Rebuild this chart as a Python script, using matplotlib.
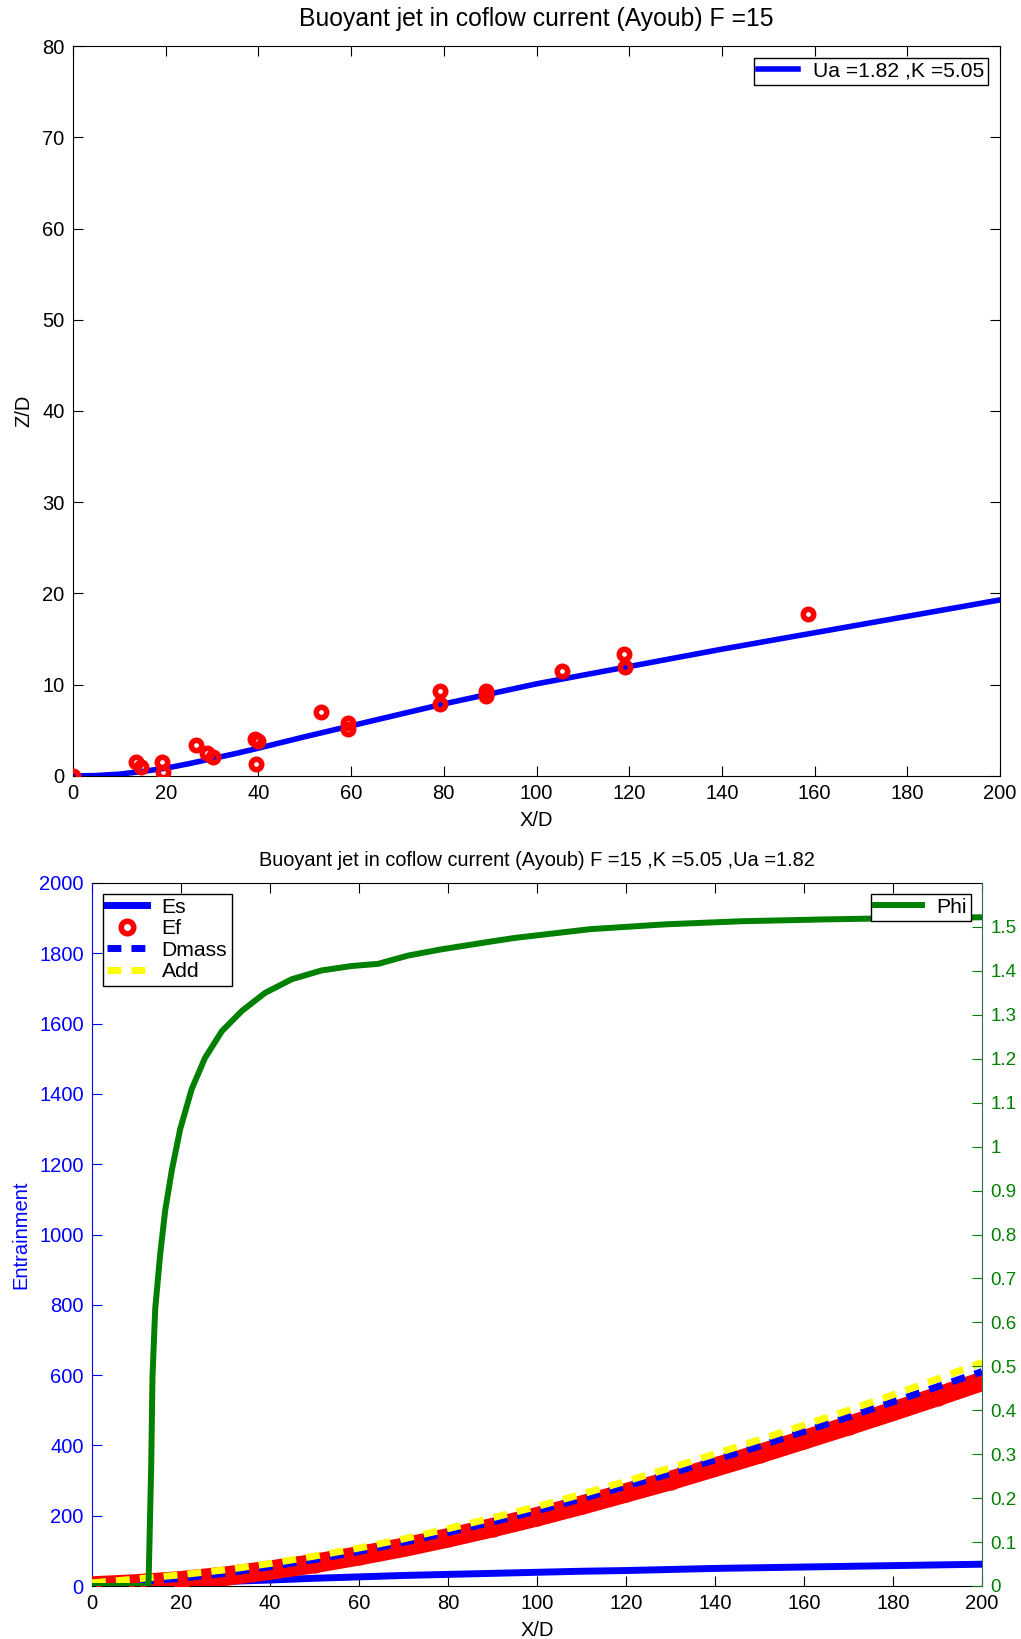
import numpy as np
import matplotlib
matplotlib.use("Agg")
import matplotlib.pyplot as plt

plt.rcParams['font.family'] = ['Liberation Sans', 'DejaVu Sans']

# ===== TRAJECTORY DATA (top) =====
x_exp = [0, 13.5, 14.6, 19.3, 19.4, 26.6, 29.0, 30.1, 39.2, 39.9, 39.5, 53.4,
         59.3, 59.3, 79.1, 79.1, 89.1, 89.1, 105.6, 118.9, 119.1, 158.5]
z_exp = [0, 1.58, 0.95, 1.58, 0.48, 3.4, 2.5, 2.1, 4.07, 3.85, 1.28, 7.0,
         5.79, 5.16, 9.34, 7.9, 9.27, 8.8, 11.54, 13.37, 11.95, 17.75]
x_mod = [0, 5, 10, 15, 20, 25, 30, 35, 40, 50, 60, 70, 80, 90, 100, 120,
         140, 160, 180, 200]
z_mod = [0, 0.05, 0.2, 0.5, 0.85, 1.35, 1.9, 2.45, 3.05, 4.3, 5.5, 6.7, 7.9,
         9.0, 10.1, 12.0, 13.9, 15.7, 17.5, 19.3]

# ===== ENTRAINMENT DATA (bottom) =====
x_ent = [0, 10, 20, 30, 40, 50, 60, 70, 80, 90, 100, 110, 120, 130, 140,
         150, 160, 170, 180, 190, 200]
es = [0, 3, 8, 13, 17, 22, 26, 30, 33, 36, 39, 42, 44, 47, 50, 52, 54, 56,
      58, 60, 62]
ef = [0, 6, 15, 28, 45, 64, 86, 110, 137, 166, 197, 230, 265, 300, 338, 376,
      416, 456, 497, 539, 582]
dmass = [5, 12, 22, 36, 55, 75, 98, 124, 152, 182, 214, 248, 284, 320, 359,
         398, 440, 481, 524, 567, 610]
add = [9, 20, 32, 46, 64, 85, 108, 134, 163, 194, 226, 261, 298, 336, 376,
       416, 458, 500, 544, 589, 636]

x_phi = [0, 12.7, 13.3, 13.6, 14.2, 15.3, 16.45, 17.95, 19.8, 22.4, 25.4,
         29.2, 33.7, 38.9, 44.9, 51.6, 58.3, 64.3, 71.1, 78.5, 89.8, 95,
         112, 129, 146, 164, 181, 200]
phi = [0, 0, 0.273, 0.478, 0.63, 0.753, 0.855, 0.947, 1.039, 1.131, 1.202,
       1.263, 1.309, 1.35, 1.381, 1.401, 1.411, 1.416, 1.435, 1.449, 1.467,
       1.475, 1.495, 1.506, 1.513, 1.517, 1.520, 1.522]

FS = 14.5
W, H = 1021, 1639

fig = plt.figure(figsize=(W / 100, H / 100), dpi=100)

# ===== TOP PLOT =====
ax = fig.add_axes([73 / W, 1 - 776 / H, 927 / W, 730 / H])
ax.plot(x_mod, z_mod, color='#0000FF', lw=4, label='Ua =1.82 ,K =5.05', zorder=2)
ax.plot(x_exp, z_exp, 'o', color='#FF0000', mfc='none', mec='#FF0000',
        ms=7.5, mew=4, zorder=3)
ax.set_xlim(0, 200)
ax.set_ylim(0, 80)
ax.set_xticks(np.arange(0, 201, 20))
ax.set_yticks(np.arange(0, 81, 10))
ax.tick_params(direction='in', length=7, top=True, right=True,
               labelsize=FS, pad=6)
ax.set_xlabel('X/D', fontsize=FS)
ax.set_ylabel('Z/D', fontsize=FS)
ax.xaxis.set_label_coords(0.5, -0.048)
ax.yaxis.set_label_coords(-0.043, 0.5)
ax.text(0.5, 1 + 27 / 730, 'Buoyant jet in coflow current (Ayoub) F =15',
        transform=ax.transAxes, ha='center', va='center', fontsize=17.8)
leg = ax.legend(loc='upper right', fontsize=15.2, fancybox=False,
                edgecolor='black', framealpha=1, handlelength=1.9,
                handletextpad=0.7, borderaxespad=0.55, borderpad=0.2)
leg.get_frame().set_linewidth(1.0)

# ===== BOTTOM PLOT =====
ax1 = fig.add_axes([92 / W, 1 - 1586 / H, 890 / W, 703 / H])
ax1.plot(x_ent, es, color='#0000FF', lw=5, label='Es', zorder=2)
ax1.plot(x_ent, ef, color='#FF0000', lw=14, solid_capstyle='round', zorder=3)
ax1.plot(x_ent, ef, 'o', color='#FF0000', mfc='none', mec='#FF0000', ms=9,
         mew=4, label='Ef', zorder=3)
ax1.plot(x_ent, dmass, color='#0000FF', lw=5, dashes=(2, 1.45),
         label='Dmass', zorder=4)
ax1.plot(x_ent, add, color='#FFFF00', lw=5, dashes=(2, 1.45),
         label='Add', zorder=5)
ax1.set_xlim(0, 200)
ax1.set_ylim(0, 2000)
ax1.set_xticks(np.arange(0, 201, 20))
ax1.set_yticks(np.arange(0, 2001, 200))
ax1.tick_params(axis='x', direction='in', length=7, top=True,
                labelsize=FS, pad=6)
ax1.tick_params(axis='y', direction='in', length=7, right=True,
                labelsize=FS, colors='#0000FF', pad=6)
ax1.spines['left'].set_color('#0000FF')
ax1.spines['right'].set_visible(False)
ax1.set_xlabel('X/D', fontsize=FS)
ax1.set_ylabel('Entrainment', fontsize=FS, color='#0000FF')
ax1.xaxis.set_label_coords(0.5, -0.05)
ax1.yaxis.set_label_coords(-0.069, 0.5)
ax1.text(0.5, 1 + 22 / 703,
         'Buoyant jet in coflow current (Ayoub) F =15 ,K =5.05 ,Ua =1.82',
         transform=ax1.transAxes, ha='center', va='center', fontsize=14.4)
leg1 = ax1.legend(loc='upper left', fontsize=15.2, fancybox=False,
                  edgecolor='black', framealpha=1, handlelength=1.9,
                  handletextpad=0.7, borderaxespad=0.5, borderpad=0.2,
                  labelspacing=0.12)
leg1.get_frame().set_linewidth(1.0)

ax2 = ax1.twinx()
ax2.plot(x_phi, phi, color='#008000', lw=4.3, label='Phi')
ax2.set_ylim(0, 1.6)
ax2.set_yticks(np.arange(0, 1.51, 0.1))
ax2.set_yticklabels(['0', '0.1', '0.2', '0.3', '0.4', '0.5', '0.6', '0.7',
                     '0.8', '0.9', '1', '1.1', '1.2', '1.3', '1.4', '1.5'])
ax2.tick_params(axis='y', direction='in', length=7, labelsize=13.5,
                colors='#008000', pad=6)
for s in ['left', 'top', 'bottom']:
    ax2.spines[s].set_visible(False)
ax2.spines['right'].set_color('#2a6b5a')
leg2 = ax2.legend(loc='upper right', fontsize=15.2, fancybox=False,
                  edgecolor='black', framealpha=1, handlelength=2.2,
                  handletextpad=0.7, borderaxespad=0.5, borderpad=0.2)
leg2.get_frame().set_linewidth(1.0)

fig.savefig('out.png', dpi=100)
